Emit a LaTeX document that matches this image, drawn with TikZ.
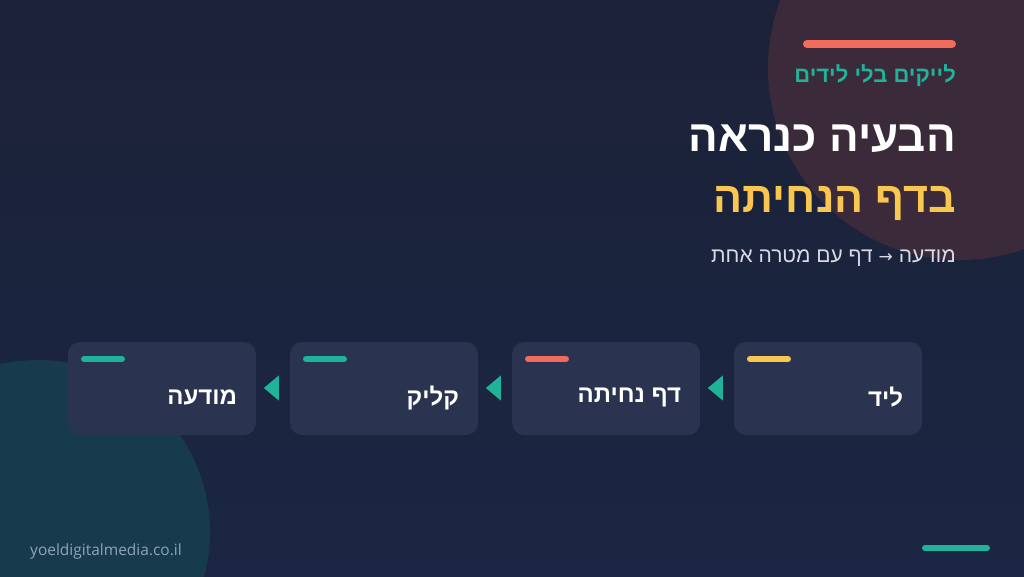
\documentclass[tikz,border=0pt]{standalone}
\usepackage{fontspec}
\usetikzlibrary{shapes.geometric}
\TeXXeTstate=1
\newfontfamily\hebfont[Script=Hebrew]{Liberation Sans}
\newfontfamily\arrowfont{DejaVu Sans}
\setsansfont{Open Sans}
\definecolor{bgtop}{HTML}{1C2238}
\definecolor{bgbot}{HTML}{1A2643}
\definecolor{blobred}{HTML}{3A2A3A}
\definecolor{blobteal}{HTML}{173A4D}
\definecolor{cardfill}{HTML}{2A3450}
\definecolor{accteal}{HTML}{1FB39A}
\definecolor{accred}{HTML}{F26B5B}
\definecolor{accyellow}{HTML}{F9C74F}
\definecolor{subgray}{HTML}{D8DCE6}
\definecolor{footgray}{HTML}{8EA3BD}
\tikzset{
    card/.style={rectangle, rounded corners=12pt, fill=cardfill,
    	minimum width=188pt, minimum height=93pt, inner sep=0pt}
}
\tikzset{
    pill/.style={line width=6pt, line cap=round}
}
\tikzset{
    cardlabel/.style={anchor=east, inner sep=0pt, text=white,
    	font=\hebfont\bfseries\fontsize{24}{28}\selectfont}
}
\tikzset{
    pointer/.style={isosceles triangle, shape border rotate=180,
    	isosceles triangle apex angle=80, fill=accteal,
    	minimum height=15pt, inner sep=0pt}
}

\begin{document}
\begin{tikzpicture}[x=1pt,y=-1pt]
	\useasboundingbox (0,0) rectangle (1024,576);
	\begin{scope}
	\clip (0,0) rectangle (1024,576);
	\shade[top color=bgtop, bottom color=bgbot] (0,0) rectangle (1024,576);
	\fill[blobred] (960,68) circle (192pt);
	\fill[blobteal] (38,532) circle (172pt);
	\end{scope}

	% heading
	\draw[pill, line width=8pt, accred] (807,44) -- (952,44);
	\node[anchor=east, inner sep=0pt, text=accteal,
		font=\hebfont\bfseries\fontsize{22}{26}\selectfont]
		(tag) at (956,76) {\beginR לייקים בלי לידים\endR};
	\node[anchor=east, inner sep=0pt, text=white,
		font=\hebfont\bfseries\fontsize{44}{50}\selectfont]
		(title) at (956,139) {\beginR הבעיה כנראה\endR};
	\node[anchor=east, inner sep=0pt, text=accyellow,
		font=\hebfont\bfseries\fontsize{43}{50}\selectfont]
		(title2) at (956,204) {\beginR בדף הנחיתה\endR};
	\node[anchor=east, inner sep=0pt, text=subgray,
		font=\hebfont\fontsize{21}{25}\selectfont]
		(sub) at (956,258) {\beginR מודעה {\arrowfont\fontsize{17}{20}\selectfont →} דף עם מטרה אחת\endR};

	% funnel cards
	\node[card] (4) at (828,388.5) {};
	\node[card] (3) at (606,388.5) {};
	\node[card] (2) at (384,388.5) {};
	\node[card] (1) at (162,388.5) {};

	\draw[pill, accyellow] (750,359) -- (788,359);
	\draw[pill, accred] (528,359) -- (566,359);
	\draw[pill, accteal] (306,359) -- (344,359);
	\draw[pill, accteal] (84,359) -- (122,359);

	\node[cardlabel] (l4) at ([xshift=-19pt,yshift=-9pt]4.east) {\beginR ליד\endR};
	\node[cardlabel] (l3) at ([xshift=-19pt,yshift=-9pt]3.east) {\beginR דף נחיתה\endR};
	\node[cardlabel] (l2) at ([xshift=-19pt,yshift=-9pt]2.east) {\beginR קליק\endR};
	\node[cardlabel] (l1) at ([xshift=-19pt,yshift=-9pt]1.east) {\beginR מודעה\endR};

	\node[pointer] (p3) at (717,388) {};
	\node[pointer] (p2) at (495,388) {};
	\node[pointer] (p1) at (273,388) {};

	% footer
	\node[anchor=west, inner sep=0pt, text=footgray,
		font=\sffamily\fontsize{15.5}{18}\selectfont]
		(site) at (30,551) {yoeldigitalmedia.co.il};
	\draw[pill, accteal] (925,548) -- (987,548);
\end{tikzpicture}
\end{document}
